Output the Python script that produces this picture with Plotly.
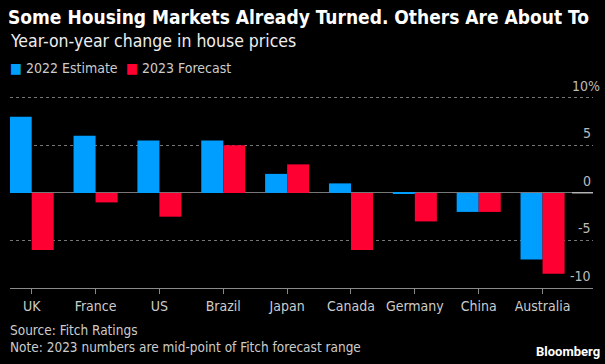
import plotly.graph_objects as go

countries = ["UK", "France", "US", "Brazil", "Japan", "Canada", "Germany", "China", "Australia"]
est_2022 = [8.0, 6.0, 5.5, 5.5, 2.0, 1.0, -0.1, -2.0, -7.0]
fc_2023 = [-6.0, -1.0, -2.5, 5.0, 3.0, -6.0, -3.0, -2.0, -8.5]
y_ticks = [-10, -5, 0, 5, 10]
y_ticktext = ["-10", "-5", "0", "5", "10%"]

BLUE = "#009eff"
RED = "#ff0033"
FONT = "Liberation Sans Narrow, DejaVu Sans Condensed, Roboto, sans-serif"

fig = go.Figure()
fig.add_trace(go.Bar(x=countries, y=est_2022, name="2022 Estimate", marker_color=BLUE, marker_line_width=0))
fig.add_trace(go.Bar(x=countries, y=fc_2023, name="2023 Forecast", marker_color=RED, marker_line_width=0))

W, H = 605, 364
top, bottom, left, right = 93.7, 288.3, 10, 593

fig.update_layout(
    width=W, height=H,
    paper_bgcolor="black", plot_bgcolor="black",
    margin=dict(l=left, r=W - right, t=top, b=H - bottom, pad=0, autoexpand=False),
    barmode="group", bargap=0.31, bargroupgap=0,
    showlegend=False,
    font=dict(family=FONT, color="#cccccc"),
)

fig.update_xaxes(
    type="category", range=[-0.34, 8.79],
    showline=True, linecolor="#8a8a8a", linewidth=1,
    ticks="outside", ticklen=5, tickcolor="#8a8a8a", tickwidth=1,
    tickfont=dict(family=FONT, size=14, color="#cccccc"),
    showgrid=False, zeroline=False, automargin=False,
)
fig.update_yaxes(
    range=[-10, 10.4], side="right", tickmode="array", tickvals=y_ticks,
    showticklabels=False,
    showgrid=True, gridcolor="#777777", griddash="dot", gridwidth=1,
    zeroline=True, zerolinecolor="#777777", zerolinewidth=1,
    showline=False, ticks="", automargin=False,
)

# y tick labels, sitting just above their gridlines at the right edge
for v, t in zip(y_ticks, y_ticktext):
    fig.add_annotation(text=t, xref="paper", yref="y", x=1.0 if t != "10%" else 1.0 + 9 / (right - left),
                       y=v, xanchor="right", yanchor="bottom", yshift=2, showarrow=False,
                       font=dict(family=FONT, size=14, color="#bbbbbb"))

# short bright segment of baseline at right edge
fig.add_shape(type="line", xref="paper", yref="y", x0=0.964, x1=1.0, y0=0, y1=0,
              line=dict(color="#dddddd", width=1))

def ann(text, x, y, size, color, bold=False, xanchor="left", family=FONT):
    fig.add_annotation(text=("<b>%s</b>" % text) if bold else text, xref="paper", yref="paper",
                       x=(x - left) / (right - left), y=(bottom - y) / (bottom - top),
                       xanchor=xanchor, yanchor="middle", showarrow=False,
                       font=dict(family=family, size=size, color=color))

ann("Some Housing Markets Already Turned. Others Are About To", 6, 16, 19, "#ffffff", bold=True,
    family="DejaVu Sans Condensed, Roboto, sans-serif")
ann("Year-on-year change in house prices", 8, 41, 17.5, "#eeeeee")
ann("<span style='color:%s'>■</span> 2022 Estimate" % BLUE, 8, 68, 14, "#cccccc")
ann("<span style='color:%s'>■</span> 2023 Forecast" % RED, 124, 68, 14, "#cccccc")
ann("Source: Fitch Ratings", 8, 330, 13.5, "#cccccc")
ann("Note: 2023 numbers are mid-point of Fitch forecast range", 8, 347, 13.5, "#cccccc")
ann("Bloomberg", 602, 352, 13, "#ffffff", bold=True, xanchor="right", family="Roboto, Arial, sans-serif")

fig.write_html("out.html", config={"displayModeBar": False},
               post_script="document.body.style.margin='0';document.body.style.background='black';document.body.style.overflow='hidden';")
